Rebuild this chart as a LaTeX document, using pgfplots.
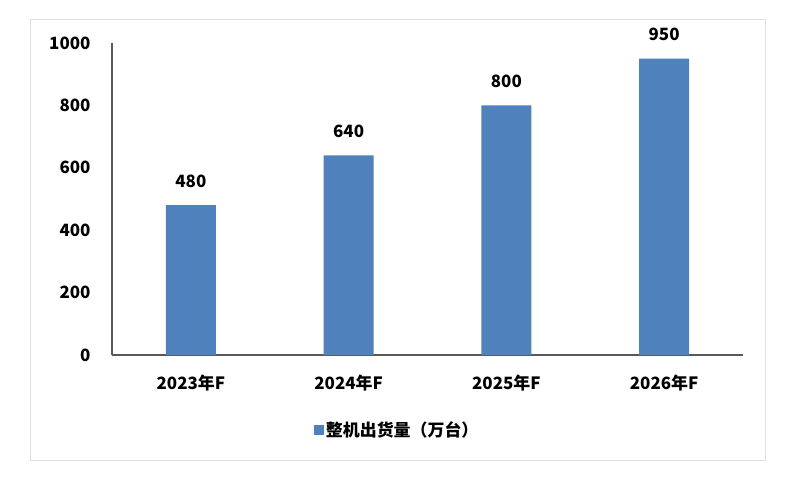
\documentclass[border=0pt]{standalone}
\usepackage{pgfplots}
\pgfplotsset{compat=1.18}
\usepackage{fontspec}
\setmainfont{Noto Sans CJK SC}
\definecolor{barblue}{HTML}{4F81BD}
\definecolor{axgray}{HTML}{595959}
\begin{document}
\begin{tikzpicture}
\fill[white] (0bp,0bp) rectangle (792bp,481bp);
\draw[black!12,line width=1bp] (30bp,20bp) rectangle (765bp,461bp);
\begin{axis}[
  at={(112bp,126bp)}, anchor=south west,
  scale only axis, width=631bp, height=312bp,
  xmin=-0.5, xmax=3.5, ymin=0, ymax=1000,
  axis x line*=bottom, axis y line*=left,
  axis line style={axgray, line width=1.2bp, -},
  xtick={0,1,2,3},
  xticklabels={2023年F,2024年F,2025年F,2026年F},
  ytick={0,200,400,600,800,1000},
  major tick length=0pt,
  /pgf/number format/assume math mode=true,
  /pgf/number format/1000 sep={},
  ticklabel style={font=\bfseries\fontsize{17}{17}\selectfont, text=black},
  xticklabel style={yshift=-16.5bp},
  yticklabel style={xshift=-18bp},
  ybar, bar width=0.317,
  nodes near coords,
  nodes near coords style={font=\bfseries\fontsize{17}{17}\selectfont, yshift=14bp},
  legend style={at={(0.452,-0.24)}, anchor=center, draw=none, fill=none,
    font=\bfseries\fontsize{17}{17}\selectfont},
  legend image code/.code={\fill[barblue] (0bp,-5bp) rectangle (10bp,5bp);},
  clip=false,
]
\addplot[fill=barblue, draw=none] coordinates {(0,480) (1,640) (2,800) (3,950)};
\addlegendentry{整机出货量（万台）}
\end{axis}
\end{tikzpicture}
\end{document}
